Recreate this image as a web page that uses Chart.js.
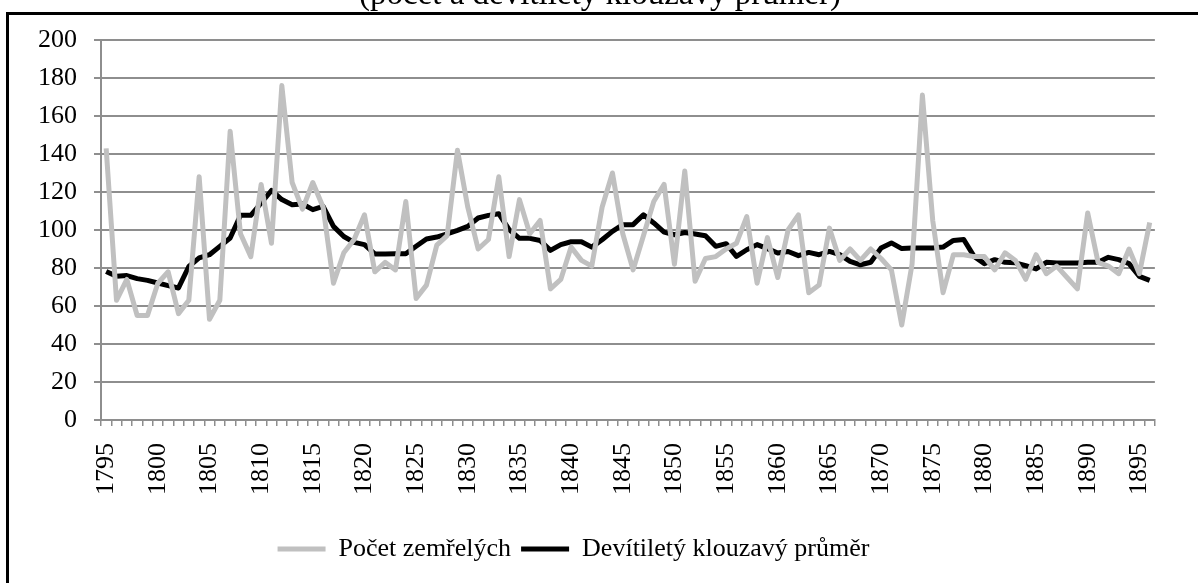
<!DOCTYPE html>
<html>
<head>
<meta charset="utf-8">
<script src="https://cdn.jsdelivr.net/npm/chart.js@4.4.1/dist/chart.umd.min.js"></script>
<style>
  html, body { margin: 0; padding: 0; background: #fff; overflow: hidden; width: 1198px; height: 583px; }
  #clip { position: absolute; left: 0; top: 0; width: 1198px; height: 583px; overflow: hidden; }
  #frame { position: absolute; left: 6px; top: 12px; width: 1400px; height: 800px; border: 3px solid #000; box-sizing: border-box; }
  #wrap { position: absolute; left: 0; top: 0; width: 1198px; height: 583px; }
</style>
</head>
<body>
<div id="clip">
<div id="frame"></div>
<div id="wrap"><canvas id="c" width="1198" height="583"></canvas></div>
</div>
<script>
const titleText = "(počet a devítiletý klouzavý průměr)";
const seriesNames = ["Počet zemřelých", "Devítiletý klouzavý průměr"];

const years = [
  1795,1796,1797,1798,1799,1800,1801,1802,1803,1804,
  1805,1806,1807,1808,1809,1810,1811,1812,1813,1814,
  1815,1816,1817,1818,1819,1820,1821,1822,1823,1824,
  1825,1826,1827,1828,1829,1830,1831,1832,1833,1834,
  1835,1836,1837,1838,1839,1840,1841,1842,1843,1844,
  1845,1846,1847,1848,1849,1850,1851,1852,1853,1854,
  1855,1856,1857,1858,1859,1860,1861,1862,1863,1864,
  1865,1866,1867,1868,1869,1870,1871,1872,1873,1874,
  1875,1876,1877,1878,1879,1880,1881,1882,1883,1884,
  1885,1886,1887,1888,1889,1890,1891,1892,1893,1894,
  1895,1896
];

const deaths = [
  143,63,74,55,55,72,78,56,63,128,
  53,63,152,98,86,124,93,176,125,111,
  125,112,72,88,95,108,78,83,79,115,
  64,71,92,97,142,112,90,95,128,86,
  116,98,105,69,74,91,84,81,112,130,
  98,79,97,115,124,82,131,73,85,86,
  90,93,107,72,96,75,100,108,67,71,
  101,84,90,84,90,85,79,50,82,171,
  105,67,87,87,86,86,79,88,84,74,
  87,77,81,75,69,109,83,81,77,90,
  77,104
];

const movingAvg = [
  78.2,75.6,76,74.4,73.5,72.1,70.7,69.5,80.8,85.3,
  87,91.4,95.8,107.7,107.7,114.2,120.8,116,113.3,113.7,
  110.7,112.4,101.9,96.6,93.5,92.3,87.4,87.4,87.5,87.5,
  91.4,95.3,96.3,98,99.8,101.9,106.3,107.7,108.6,100.2,
  95.6,95.6,94.5,89.3,92.3,93.8,93.8,91,94.9,99.3,
  102.8,102.8,108,103.7,98.9,97.5,98.7,97.9,97,91.4,
  92.8,86.1,89.6,92.3,90.2,87.9,88.7,86.5,88.2,87,
  88.7,87,83.5,81.7,83,90.5,93.2,90.2,90.5,90.5,
  90.5,91,94.5,95,86.1,82.3,84.4,83,82.7,81.2,
  79.5,83,82.6,82.6,82.6,83,83,85.6,84.4,82.3,
  75.6,73.5
];

const yTicks = [0,20,40,60,80,100,120,140,160,180,200];

const FONT = "'Liberation Serif', 'Times New Roman', serif";
const GRID = '#8e8e8e';

const titlePlugin = {
  id: 'topTitle',
  afterDraw(chart) {
    const ctx = chart.ctx;
    ctx.save();
    ctx.font = "33px " + FONT;
    ctx.fillStyle = '#000';
    ctx.textAlign = 'center';
    ctx.textBaseline = 'alphabetic';
    ctx.fillText(titleText, 600, 4);
    ctx.restore();
  }
};

const legendShift = {
  id: 'legendShift',
  afterLayout(chart) {
    const l = chart.legend;
    if (l) { l.left -= 16; l.right -= 16; }
  }
};

new Chart(document.getElementById('c'), {
  type: 'line',
  data: {
    labels: years.map(String),
    datasets: [
      {
        label: seriesNames[0],
        data: deaths,
        borderColor: '#c0c0c0',
        backgroundColor: '#c0c0c0',
        borderWidth: 5,
        pointRadius: 0,
        tension: 0,
        borderJoinStyle: 'round'
      },
      {
        label: seriesNames[1],
        data: movingAvg,
        borderColor: '#000000',
        backgroundColor: '#000000',
        borderWidth: 5,
        pointRadius: 0,
        tension: 0,
        borderJoinStyle: 'round'
      }
    ]
  },
  options: {
    responsive: false,
    animation: false,
    layout: { padding: { left: 0, right: 19, top: 40, bottom: 11 } },
    plugins: {
      title: { display: false },
      tooltip: { enabled: false },
      legend: {
        position: 'bottom',
        labels: {
          font: { family: FONT, size: 26 },
          color: '#000',
          boxWidth: 48,
          boxHeight: 5,
          padding: 10,
          generateLabels(chart) {
            const items = Chart.defaults.plugins.legend.labels.generateLabels(chart);
            items.forEach(it => { it.lineWidth = 0; });
            return items;
          }
        }
      }
    },
    scales: {
      x: {
        type: 'category',
        offset: true,
        grid: {
          display: true,
          drawOnChartArea: false,
          drawTicks: true,
          tickLength: 6,
          color: GRID,
          lineWidth: 1.5,
          offset: true
        },
        border: { display: true, color: GRID, width: 2 },
        ticks: {
          autoSkip: false,
          maxRotation: 90,
          minRotation: 90,
          padding: 17,
          color: '#000',
          font: { family: FONT, size: 26 },
          callback: function(value, index) {
            const y = years[index];
            return (y % 5 === 0) ? String(y) : '';
          }
        },
        afterFit(scale) { scale.height = 106; }
      },
      y: {
        min: yTicks[0],
        max: yTicks[yTicks.length - 1],
        afterBuildTicks(scale) { scale.ticks = yTicks.map(v => ({ value: v })); },
        grid: { color: GRID, lineWidth: 2, tickLength: 7 },
        border: { display: true, color: GRID, width: 2 },
        ticks: {
          padding: 17,
          color: '#000',
          font: { family: FONT, size: 26 }
        },
        afterFit(scale) { scale.width = 101; }
      }
    }
  },
  plugins: [titlePlugin, legendShift]
});
</script>
</body>
</html>
